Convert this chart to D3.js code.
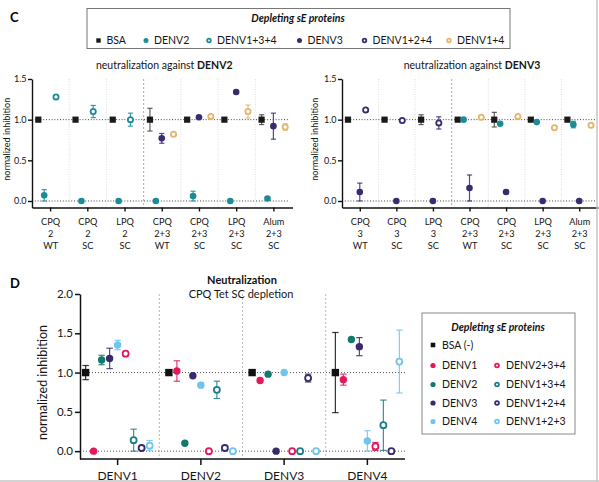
<!DOCTYPE html>
<html>
<head>
<meta charset="utf-8">
<script src="https://cdn.jsdelivr.net/npm/d3@7"></script>
<style>
  body { margin: 0; background: #fff; }
  svg { display: block; font-family: Lato, "Noto Sans", sans-serif; }
</style>
</head>
<body>
<svg width="599" height="482"></svg>
<script>
// ---- panel C data (x tick labels are 3 lines, split on |)
const groupsC2 = ['CPQ|2|WT', 'CPQ|2|SC', 'LPQ|2|SC', 'CPQ|2+3|WT', 'CPQ|2+3|SC', 'LPQ|2+3|SC', 'Alum|2+3|SC'];
const groupsC3 = ['CPQ|3|WT', 'CPQ|3|SC', 'LPQ|3|SC', 'CPQ|2+3|WT', 'CPQ|2+3|SC', 'LPQ|2+3|SC', 'Alum|2+3|SC'];
const ticksC = [0, 0.5, 1.0, 1.5];

// neutralization against DENV2
const c2BSA = [1, 1, 1, 1, 1, 1, 1];
const c2BSAErr = [0, 0, 0, 0.14, 0, 0, 0.06];
const c2DENV2 = [0.07, 0, 0, 0, 0.06, 0, 0.03];
const c2DENV2Err = [0.07, 0, 0, 0, 0.06, 0, 0.02];
const c2DENV134 = [1.28, 1.10, 1.00, null, null, null, null];
const c2DENV134Err = [0.02, 0.075, 0.08, 0, 0, 0, 0];
const c2DENV3 = [null, null, null, 0.77, 1.03, 1.34, 0.92];
const c2DENV3Err = [0, 0, 0, 0.06, 0, 0, 0.16];
const c2DENV14 = [null, null, null, 0.82, 1.04, 1.10, 0.91];
const c2DENV14Err = [0, 0, 0, 0, 0, 0.08, 0.04];

// neutralization against DENV3
const c3BSA = [1, 1, 1, 1, 1, 1, 1];
const c3BSAErr = [0, 0, 0.06, 0, 0.09, 0, 0];
const c3DENV3 = [0.11, 0, 0, 0.16, 0.11, 0, 0];
const c3DENV3Err = [0.11, 0, 0, 0.16, 0, 0, 0];
const c3DENV124 = [1.12, 0.99, 0.96, null, null, null, null];
const c3DENV124Err = [0, 0, 0.075, 0, 0, 0, 0];
const c3DENV2 = [null, null, null, 1.00, 0.95, 0.97, 0.94];
const c3DENV2Err = [0, 0, 0, 0, 0, 0, 0.04];
const c3DENV14 = [null, null, null, 1.03, 1.04, 0.90, 0.93];
const c3DENV14Err = [0, 0, 0, 0, 0, 0, 0];

// ---- panel D data
const groupsD = ['DENV1', 'DENV2', 'DENV3', 'DENV4'];
const ticksD = [0, 0.5, 1.0, 1.5, 2.0];
const seriesNamesD = ['BSA (-)', 'DENV1', 'DENV2', 'DENV3', 'DENV4', 'DENV2+3+4', 'DENV1+3+4', 'DENV1+2+4', 'DENV1+2+3'];
const dValues = [
  [1, 1, 1, 1],
  [0, 1.02, 0.90, 0.91],
  [1.16, 0.10, 0.98, 1.42],
  [1.18, 0.96, 0, 1.33],
  [1.35, 0.84, 1.00, 0.13],
  [1.24, 0, 0, 0.06],
  [0.14, 0.78, 0, 0.33],
  [0.04, 0.04, 0.93, 0],
  [0.07, 0, 0, 1.14]
];
const dErrors = [
  [0.09, 0, 0, 0.51],
  [0, 0.13, 0, 0.07],
  [0.06, 0, 0, 0],
  [0.13, 0, 0, 0.115],
  [0.06, 0.03, 0, 0.13],
  [0, 0, 0, 0.05],
  [0.14, 0.11, 0, 0.32],
  [0.02, 0.03, 0.05, 0],
  [0.065, 0, 0, 0.40]
];

// ---- styles
const styleC = {
  'BSA':       { color: '#1a1a1a', shape: 'square', slot: 0 },
  'DENV2':     { color: '#1b8c97', shape: 'dot', slot: 1 },
  'DENV1+3+4': { color: '#1b8c97', shape: 'open', slot: 3 },
  'DENV3':     { color: '#3a2a70', shape: 'dot', slot: 2 },
  'DENV1+2+4': { color: '#3a2a70', shape: 'open', slot: 3 },
  'DENV1+4':   { color: '#e6b46c', shape: 'open', slot: 4 }
};
const styleD = {
  'BSA (-)':   { color: '#111111', shape: 'square' },
  'DENV1':     { color: '#e4175c', shape: 'dot' },
  'DENV2':     { color: '#137a6b', shape: 'dot' },
  'DENV3':     { color: '#392a6d', shape: 'dot' },
  'DENV4':     { color: '#6fc5ec', shape: 'dot' },
  'DENV2+3+4': { color: '#e4175c', shape: 'open' },
  'DENV1+3+4': { color: '#1c7d8a', shape: 'open' },
  'DENV1+2+4': { color: '#392a6d', shape: 'open' },
  'DENV1+2+3': { color: '#6fc5ec', shape: 'open' }
};

const ink = '#151515';
const svg = d3.select('svg');

function marker(g, shape, color, cx, cy, r) {
  if (shape === 'square') {
    g.append('rect').attr('x', cx - r).attr('y', cy - r).attr('width', 2 * r).attr('height', 2 * r).attr('fill', color);
  } else if (shape === 'open') {
    g.append('circle').attr('cx', cx).attr('cy', cy).attr('r', r - 0.7).attr('fill', '#fff').attr('stroke', color).attr('stroke-width', 1.8);
  } else {
    g.append('circle').attr('cx', cx).attr('cy', cy).attr('r', r).attr('fill', color);
  }
}

function errorBar(g, color, cx, y, v, e, cap) {
  if (!e) return;
  const lo = y(Math.max(v - e, 0)), hi = y(v + e);
  g.append('line').attr('x1', cx).attr('x2', cx).attr('y1', lo).attr('y2', hi);
  g.append('line').attr('x1', cx - cap).attr('x2', cx + cap).attr('y1', lo).attr('y2', lo);
  g.append('line').attr('x1', cx - cap).attr('x2', cx + cap).attr('y1', hi).attr('y2', hi);
  g.selectAll('line').attr('stroke', color).attr('stroke-width', 1.2).attr('stroke-opacity', 0.85);
}

function panelC(groups, series, xRange, title, boldPart, labelX) {
  const x = d3.scaleBand().domain(groups).range(xRange);
  const y = d3.scaleLinear().domain([-0.08, 1.5]).range([207.5, 79]);
  const slot = d3.scaleLinear().domain([0, 4]).range([-12.3, 11.3]);
  const g = svg.append('g');

  // vertical separators
  groups.slice(1).forEach((c, i) => {
    const sx = x(c);
    g.append('line').attr('x1', sx).attr('x2', sx).attr('y1', y(1.5)).attr('y2', y(-0.08))
      .attr('stroke', i === 2 ? '#a8a8a8' : '#dedede')
      .attr('stroke-dasharray', i === 2 ? '2,2' : '1,1.5');
  });

  // reference lines at 0 and 1
  [0, 1].forEach(v => {
    g.append('line').attr('x1', xRange[0]).attr('x2', xRange[1] - 3).attr('y1', y(v)).attr('y2', y(v))
      .attr('stroke', '#444').attr('stroke-dasharray', '1,1.8');
  });

  // axes
  const ya = g.append('g').attr('transform', `translate(${xRange[0]},0)`)
    .call(d3.axisLeft(y).tickValues(ticksC).tickFormat(d3.format('.1f')).tickSize(4).tickSizeOuter(0));
  ya.selectAll('text').attr('font-size', 9).attr('fill', ink).attr('x', -5.5);
  ya.selectAll('path, line').attr('stroke', '#111').attr('stroke-width', 1.4);
  ya.attr('font-family', null);

  const xa = g.append('g').attr('transform', `translate(0,${y(-0.08)})`)
    .call(d3.axisBottom(x).tickSize(4).tickSizeOuter(0).tickFormat(''));
  xa.selectAll('path, line').attr('stroke', '#111').attr('stroke-width', 1.4);
  xa.selectAll('.tick').each(function (d) {
    const t = d3.select(this).append('text').attr('fill', ink).attr('font-size', 9.2)
      .attr('text-anchor', 'middle');
    d.split('|').forEach((s, i) => t.append('tspan').attr('x', 0).attr('y', 17.5 + i * 12).text(s));
  });
  xa.attr('font-family', null);

  // points
  series.forEach(s => {
    const st = styleC[s.name];
    s.values.forEach((v, i) => {
      if (v === null) return;
      const cx = x(groups[i]) + x.bandwidth() / 2 + slot(st.slot);
      errorBar(g.append('g'), st.shape === 'square' ? '#444' : st.color, cx, y, v, s.err[i], 2.6);
      marker(g, st.shape, st.color, cx, y(v), st.shape === 'square' ? 3.1 : 3.3);
    });
  });

  // titles
  const t = g.append('text').attr('x', d3.mean(xRange) + 2).attr('y', 68.5).attr('text-anchor', 'middle')
    .attr('font-size', 10.5).attr('fill', ink).text(title);
  t.append('tspan').attr('font-weight', 'bold').text(boldPart);
  g.append('text').attr('transform', `translate(${labelX},${(y(1.5) + y(-0.08)) / 2 - 4}) rotate(-90)`)
    .attr('text-anchor', 'middle').attr('font-size', 9).attr('fill', ink).text('normalized inhibition');
}

panelC(groupsC2, [
  { name: 'BSA', values: c2BSA, err: c2BSAErr },
  { name: 'DENV2', values: c2DENV2, err: c2DENV2Err },
  { name: 'DENV1+3+4', values: c2DENV134, err: c2DENV134Err },
  { name: 'DENV3', values: c2DENV3, err: c2DENV3Err },
  { name: 'DENV1+4', values: c2DENV14, err: c2DENV14Err }
], [32, 292.5], 'neutralization against ', 'DENV2', 10);

panelC(groupsC3, [
  { name: 'BSA', values: c3BSA, err: c3BSAErr },
  { name: 'DENV3', values: c3DENV3, err: c3DENV3Err },
  { name: 'DENV1+2+4', values: c3DENV124, err: c3DENV124Err },
  { name: 'DENV2', values: c3DENV2, err: c3DENV2Err },
  { name: 'DENV1+4', values: c3DENV14, err: c3DENV14Err }
], [342, 598], 'neutralization against ', 'DENV3', 318);

// ---- top legend (panel C)
const legC = svg.append('g');
legC.append('rect').attr('x', 87).attr('y', 8.5).attr('width', 423).attr('height', 40)
  .attr('fill', '#fff').attr('stroke', '#777').attr('stroke-width', 1);
legC.append('text').attr('x', 298).attr('y', 22).attr('text-anchor', 'middle')
  .attr('font-size', 10.5).attr('font-weight', 'bold').attr('font-style', 'italic').attr('fill', '#111')
  .text('Depleting sE proteins');
const legCx = d3.scaleOrdinal().domain(Object.keys(styleC)).range([98.5, 146, 209, 299.5, 364.5, 449]);
Object.keys(styleC).forEach(k => {
  const st = styleC[k];
  marker(legC, st.shape, st.color, legCx(k), 40.5, st.shape === 'square' ? 2.2 : 2.5);
  legC.append('text').attr('x', legCx(k) + 8).attr('y', 44).attr('font-size', 10.5).attr('fill', ink).text(k);
});

// ---- panel D
{
  const x = d3.scaleBand().domain(groupsD).range([76, 409]);
  const y = d3.scaleLinear().domain([-0.1, 2.0]).range([459, 294]);
  const off = d3.scalePoint().domain(seriesNamesD).range([-32, 32]);
  const g = svg.append('g');

  groupsD.slice(1).forEach(c => {
    g.append('line').attr('x1', x(c)).attr('x2', x(c)).attr('y1', y(2.0)).attr('y2', y(-0.1))
      .attr('stroke', '#b8b8b8').attr('stroke-dasharray', '2,2');
  });
  [0, 1].forEach(v => {
    g.append('line').attr('x1', 80).attr('x2', 405).attr('y1', y(v)).attr('y2', y(v))
      .attr('stroke', '#555').attr('stroke-dasharray', '1,2');
  });

  const ya = g.append('g').attr('transform', 'translate(80,0)')
    .call(d3.axisLeft(y).tickValues(ticksD).tickFormat(d3.format('.1f')).tickSize(5).tickSizeOuter(0));
  ya.selectAll('text').attr('font-size', 11.5).attr('fill', ink).attr('x', -7);
  ya.selectAll('path, line').attr('stroke', '#111').attr('stroke-width', 1.5);
  ya.attr('font-family', null);

  const xa = g.append('g').attr('transform', `translate(0,${y(-0.1)})`)
    .call(d3.axisBottom(x).tickSize(6).tickSizeOuter(0));
  xa.select('.domain').attr('d', 'M80,0H405');
  xa.selectAll('path, line').attr('stroke', '#111').attr('stroke-width', 1.5);
  xa.selectAll('text').attr('font-size', 12).attr('fill', ink).attr('y', 12.5).attr('dy', '0.71em');
  xa.attr('font-family', null);

  seriesNamesD.forEach((name, si) => {
    const st = styleD[name];
    dValues[si].forEach((v, gi) => {
      const cx = x(groupsD[gi]) + x.bandwidth() / 2 + off(name);
      errorBar(g.append('g'), st.color, cx, y, v, dErrors[si][gi], 3.2);
      marker(g, st.shape, st.color, cx, y(v), 3.7);
    });
  });

  g.append('text').attr('x', 242).attr('y', 284).attr('text-anchor', 'middle')
    .attr('font-size', 11).attr('font-weight', 'bold').attr('fill', '#111').text('Neutralization');
  g.append('text').attr('x', 241).attr('y', 298).attr('text-anchor', 'middle')
    .attr('font-size', 11).attr('fill', ink).text('CPQ Tet SC depletion');
  g.append('text').attr('transform', `translate(47,${(y(2.0) + y(-0.1)) / 2 + 6}) rotate(-90)`)
    .attr('text-anchor', 'middle').attr('font-size', 12.5).attr('fill', ink).text('normalized inhibition');

  // legend D
  const leg = svg.append('g');
  leg.append('rect').attr('x', 422).attr('y', 313).attr('width', 153).attr('height', 121)
    .attr('fill', '#fff').attr('stroke', '#888').attr('stroke-width', 1);
  leg.append('text').attr('x', 498).attr('y', 331).attr('text-anchor', 'middle')
    .attr('font-size', 10.5).attr('font-weight', 'bold').attr('font-style', 'italic').attr('fill', '#111')
    .text('Depleting sE proteins');
  const rowY = [345, 365.5, 384.5, 403, 421.5];
  seriesNamesD.forEach((name, i) => {
    const st = styleD[name];
    const col = i < 5 ? 0 : 1;
    const row = i < 5 ? i : i - 4;
    const mx = col === 0 ? 433 : 497;
    marker(leg, st.shape, st.color, mx, rowY[row], st.shape === 'square' ? 2.3 : 2.6);
    leg.append('text').attr('x', mx + 9).attr('y', rowY[row] + 3.8).attr('font-size', 10.5)
      .attr('fill', ink).text(name);
  });
}

// panel letters
svg.append('text').attr('x', 10).attr('y', 22).attr('font-size', 13).attr('font-weight', 'bold').text('C');
svg.append('text').attr('x', 10).attr('y', 288).attr('font-size', 13).attr('font-weight', 'bold').text('D');

// frame edges of the figure crop
svg.append('line').attr('x1', 597).attr('x2', 597).attr('y1', 0).attr('y2', 482).attr('stroke', '#c4c4c4').attr('stroke-width', 1.5);
svg.append('line').attr('x1', 0).attr('x2', 599).attr('y1', 481).attr('y2', 481).attr('stroke', '#c4c4c4').attr('stroke-width', 1.5);
</script>
</body>
</html>
